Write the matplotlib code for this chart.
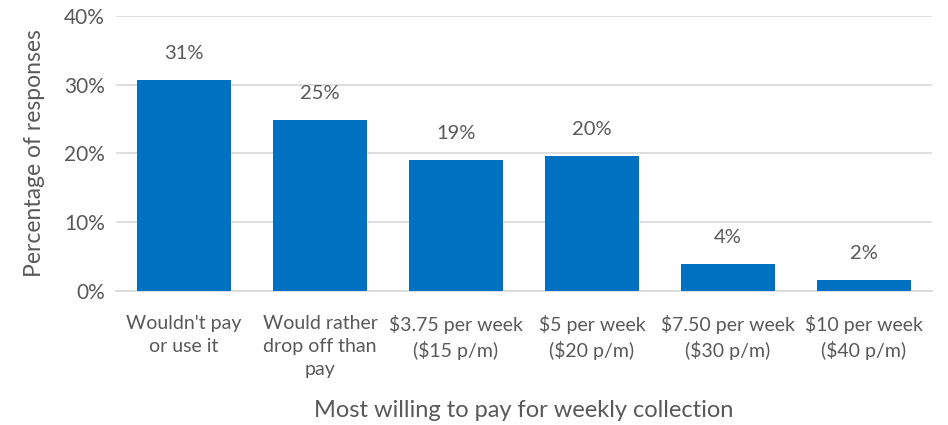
import numpy as np
import matplotlib.pyplot as plt

categories = ["Wouldn't pay\nor use it", "Would rather\ndrop off than\npay",
              "$3.75 per week\n($15 p/m)", "$5 per week\n($20 p/m)",
              "$7.50 per week\n($30 p/m)", "$10 per week\n($40 p/m)"]
values = [30.7, 24.9, 19.05, 19.6, 3.9, 1.6]
labels = ["31%", "25%", "19%", "20%", "4%", "2%"]

txt = "#595959"
plt.rcParams['font.family'] = ['Lato', 'DejaVu Sans']

fig = plt.figure(figsize=(9.48, 4.25), dpi=100)
ax = fig.add_axes([0.1224, 0.3153, 0.8606, 0.6471])

x = np.arange(len(categories))
ax.bar(x, values, width=0.69, color="#0070C0", zorder=3)
for xi, v, l in zip(x, values, labels):
    ax.text(xi, v + 2.6, l, ha="center", va="bottom", fontsize=14.5, color=txt)

ax.set_xlim(-0.5, len(categories) - 0.5)
ax.set_ylim(0, 40)
ax.set_yticks([0, 10, 20, 30, 40])
ax.set_yticklabels([f"{t}%" for t in [0, 10, 20, 30, 40]])
ax.set_xticks(x)
ax.set_xticklabels(categories, linespacing=1.45)
ax.tick_params(axis="both", length=0, labelsize=14, labelcolor=txt)
ax.tick_params(axis="y", labelsize=15, pad=8)
ax.tick_params(axis="x", pad=17)
ax.grid(axis="y", color="#D9D9D9", linewidth=1.2, zorder=0)
for s in ["top", "right", "left"]:
    ax.spines[s].set_visible(False)
ax.spines["bottom"].set_color("#D9D9D9")
ax.spines["bottom"].set_linewidth(1.2)

ax.set_ylabel("Percentage of responses", fontsize=16.5, color=txt, labelpad=14)
ax.set_xlabel("Most willing to pay for weekly collection", fontsize=17, color=txt, labelpad=16)

fig.savefig("out.png", dpi=100)
